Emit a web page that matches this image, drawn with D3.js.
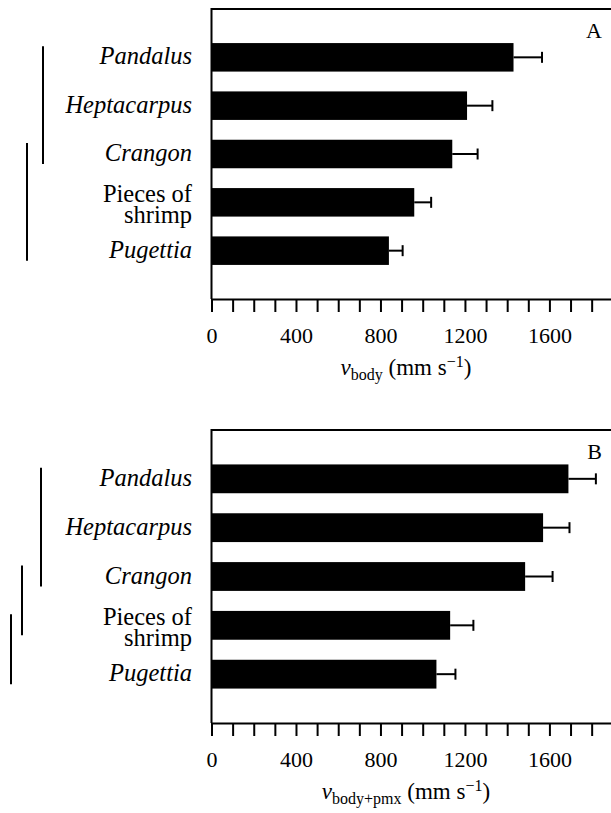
<!DOCTYPE html>
<meta charset="utf-8">
<head>
    <title>Swimming velocity</title>
    <script src="https://d3js.org/d3.v7.min.js"></script>
    <style>
        body { margin: 0; background: #ffffff; }
    </style>
</head>
<body>
<div id="my_dataviz"></div>
<script>

// categories (top to bottom)
var categories = ["Pandalus", "Heptacarpus", "Crangon", "Pieces of shrimp", "Pugettia"];
var italicCats = ["Pandalus", "Heptacarpus", "Crangon", "Pugettia"];

// panel A: v body
var bodyMean = [1430, 1210, 1140, 960, 840];
var bodySE   = [135, 120, 120, 80, 65];

// panel B: v body+pmx
var pmxMean = [1690, 1570, 1485, 1130, 1065];
var pmxSE   = [130, 125, 130, 110, 90];

// x ticks
var xTicks = d3.range(0, 1801, 100);
var xLabels = [0, 400, 800, 1200, 1600];

// lines for groups that do not differ
var groupsA = [["Pandalus", "Crangon"], ["Crangon", "Pugettia"]];
var groupsB = [["Pandalus", "Crangon"], ["Crangon", "Pieces of shrimp"], ["Pieces of shrimp", "Pugettia"]];

var SERIF = "'Liberation Serif', 'Times New Roman', serif";
var W = 611, H = 813;
var svg = d3.select("#my_dataviz")
    .append("svg")
    .attr("width", W)
    .attr("height", H)
    .style("font-family", SERIF);

var x = d3.scaleLinear()
    .domain([0, 1900])
    .range([211.5, 211.5 + 0.2112 * 1900]);

function drawPanel(p) {
    var g = svg.append("g");
    var y = d3.scaleBand()
        .domain(categories)
        .range([p.top, p.bottom])
        .paddingInner(0.41)
        .paddingOuter(0.705);
    var rows = categories.map(function(c, i) { return {cat: c, mean: p.mean[i], se: p.se[i]}; });

    // frame: top and left
    g.append("line")
        .attr("x1", x(0)).attr("x2", W + 5)
        .attr("y1", p.top).attr("y2", p.top)
        .attr("stroke", "#000").attr("stroke-width", 2);
    g.append("line")
        .attr("x1", x(0)).attr("x2", x(0))
        .attr("y1", p.top - 1).attr("y2", p.bottom)
        .attr("stroke", "#000").attr("stroke-width", 2);

    // bars
    g.selectAll(".bar")
        .data(rows)
        .enter()
        .append("rect")
            .attr("x", x(0))
            .attr("y", function(d) { return y(d.cat); })
            .attr("width", function(d) { return x(d.mean) - x(0); })
            .attr("height", y.bandwidth())
            .style("fill", "#000");

    // error bars
    g.selectAll(".err")
        .data(rows)
        .enter()
        .append("line")
            .attr("x1", function(d) { return x(d.mean); })
            .attr("x2", function(d) { return x(d.mean + d.se); })
            .attr("y1", function(d) { return y(d.cat) + y.bandwidth() / 2; })
            .attr("y2", function(d) { return y(d.cat) + y.bandwidth() / 2; })
            .attr("stroke", "#000").attr("stroke-width", 2);
    g.selectAll(".cap")
        .data(rows)
        .enter()
        .append("line")
            .attr("x1", function(d) { return x(d.mean + d.se); })
            .attr("x2", function(d) { return x(d.mean + d.se); })
            .attr("y1", function(d) { return y(d.cat) + y.bandwidth() / 2 - 5.5; })
            .attr("y2", function(d) { return y(d.cat) + y.bandwidth() / 2 + 5.5; })
            .attr("stroke", "#000").attr("stroke-width", 2);

    // X axis
    var ax = g.append("g")
        .attr("transform", "translate(0," + p.bottom + ")")
        .call(d3.axisBottom(x)
            .tickValues(xTicks)
            .tickSize(13)
            .tickSizeOuter(0)
            .tickPadding(15)
            .tickFormat(function(d) { return xLabels.indexOf(d) >= 0 ? d : ""; }));
    ax.attr("font-family", null).attr("font-size", null);
    ax.select(".domain").attr("stroke-width", 2);
    ax.selectAll(".tick line").attr("stroke-width", 2);
    ax.selectAll(".tick text")
        .style("font-family", SERIF)
        .style("font-size", "22px")
        .attr("fill", "#000");

    // category labels
    var lab = g.selectAll(".lab")
        .data(categories)
        .enter()
        .append("text")
            .attr("text-anchor", "end")
            .attr("x", 192)
            .attr("y", function(d) { return y(d) + y.bandwidth() / 2 + 7; })
            .style("font-family", SERIF)
            .style("font-size", "24.5px")
            .style("font-style", function(d) { return italicCats.indexOf(d) >= 0 ? "italic" : "normal"; });
    lab.each(function(d) {
        var t = d3.select(this);
        if (d === "Pieces of shrimp") {
            t.attr("y", y(d) + y.bandwidth() / 2);
            t.append("tspan").attr("x", 192).attr("dy", 0).text("Pieces of");
            t.append("tspan").attr("x", 192).attr("dy", 21).text("shrimp");
        } else {
            t.text(d);
        }
    });

    // group lines
    g.selectAll(".grp")
        .data(p.groups)
        .enter()
        .append("line")
            .attr("x1", function(d, i) { return p.lineX[i]; })
            .attr("x2", function(d, i) { return p.lineX[i]; })
            .attr("y1", function(d) { return y(d[0]) + y.bandwidth() / 2 - 11; })
            .attr("y2", function(d) { return y(d[1]) + y.bandwidth() / 2 + 10; })
            .attr("stroke", "#000").attr("stroke-width", 2);

    // panel letter
    g.append("text")
        .attr("x", 602).attr("y", p.top + 29)
        .attr("text-anchor", "end")
        .style("font-family", SERIF)
        .style("font-size", "22px")
        .text(p.letter);

    // axis title
    var tt = g.append("text")
        .attr("x", 406).attr("y", p.bottom + 76)
        .attr("text-anchor", "middle")
        .style("font-family", SERIF)
        .style("font-size", "23px");
    tt.append("tspan").style("font-style", "italic").text("v");
    tt.append("tspan").attr("dy", 5).style("font-size", "16px").text(p.sub);
    tt.append("tspan").attr("dy", -5).text(" (mm s");
    tt.append("tspan").attr("dy", -8).style("font-size", "16px").text("\u22121");
    tt.append("tspan").attr("dy", 8).text(")");
}

drawPanel({top: 9, bottom: 299, mean: bodyMean, se: bodySE, letter: "A",
           sub: "body", groups: groupsA, lineX: [43, 27]});
drawPanel({top: 430, bottom: 723, mean: pmxMean, se: pmxSE, letter: "B",
           sub: "body+pmx", groups: groupsB, lineX: [41, 22, 11]});

</script>
</body>
</html>
